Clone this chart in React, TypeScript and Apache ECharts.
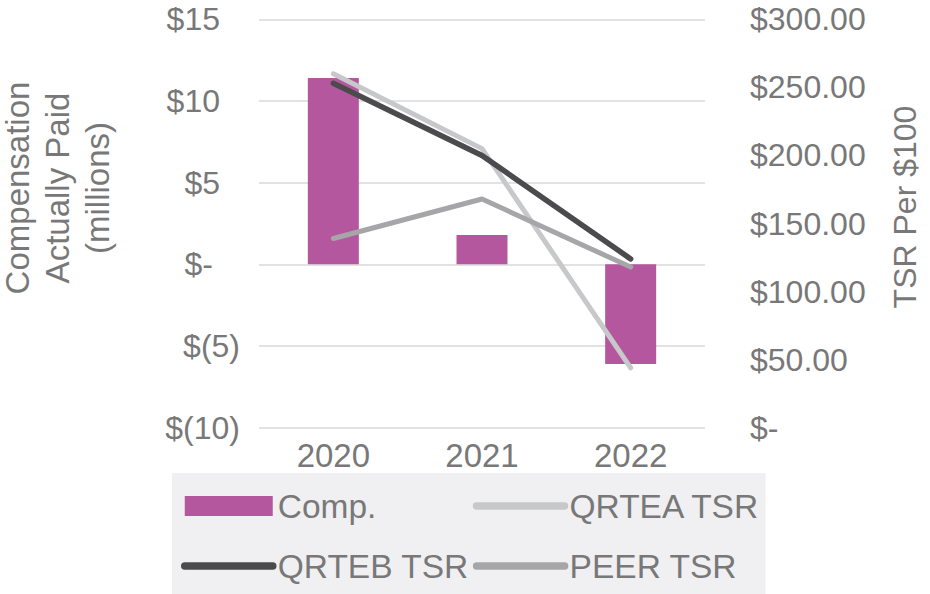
import React, { useEffect, useRef } from "react";
import * as echarts from "echarts";

const years = ["2020", "2021", "2022"];
const compValues = [11.4, 1.8, -6.1];
const qrteaTsr = [260, 205, 44];
const qrtebTsr = [253, 200, 124];
const peerTsr = [139, 168, 118];

const FONT = "'Liberation Sans', Arial, sans-serif";
const TEXT = "#787878";

export default function App() {
  const ref = useRef<HTMLDivElement>(null);
  useEffect(() => {
    if (!ref.current) return;
    const chart = echarts.init(ref.current, undefined, { renderer: "svg" });
    const lab = { fontSize: 32, fontFamily: FONT, color: TEXT };
    const hideSym = { opacity: 0 };
    chart.setOption({
      animation: false,
      backgroundColor: "#ffffff",
      textStyle: { fontFamily: FONT },
      grid: { left: 259, right: 225, top: 19.3, bottom: 166.3, containLabel: false },
      xAxis: {
        type: "category",
        data: years,
        axisLine: { show: false },
        axisTick: { show: false },
        axisLabel: { ...lab, fontSize: 33, margin: 11 },
      },
      yAxis: [
        {
          type: "value",
          min: -10,
          max: 15,
          interval: 5,
          axisLine: { show: false },
          axisTick: { show: false },
          splitLine: { lineStyle: { color: "#d9d9d9", width: 1.5 } },
          axisLabel: {
            ...lab,
            margin: 19,
            formatter: (v: number) =>
              v < 0 ? `{n|$(${-v})}` : v === 0 ? "{z|$-}" : `{p|$${v}}`,
            rich: {
              n: { ...lab },
              z: { ...lab, padding: [0, 27, 0, 0] },
              p: { ...lab, padding: [0, 20, 0, 0] },
            },
          },
        },
        {
          type: "value",
          min: 0,
          max: 300,
          interval: 50,
          alignTicks: false,
          axisLine: { show: false },
          axisTick: { show: false },
          splitLine: { show: false },
          axisLabel: {
            ...lab,
            margin: 45,
            formatter: (v: number) => (v === 0 ? "$-" : `$${v.toFixed(2)}`),
          },
        },
      ],
      legend: {
        left: 172,
        top: 473,
        width: 640,
        orient: "horizontal",
        backgroundColor: "#f0f0f2",
        padding: [5, 5, 0, 9],
        itemGap: 4,
        itemWidth: 88,
        itemHeight: 20,
        textStyle: { ...lab, fontSize: 33.5, lineHeight: 56, width: 191 },
        data: [
          { name: "Comp.", icon: "rect" },
          { name: "QRTEA TSR", lineStyle: { width: 7.5, cap: "round" }, itemStyle: hideSym },
          { name: "QRTEB TSR", lineStyle: { width: 7.5, cap: "round" }, itemStyle: hideSym },
          { name: "PEER TSR", lineStyle: { width: 7.5, cap: "round" }, itemStyle: hideSym },
        ],
      },
      graphic: [
        {
          type: "text",
          x: 57,
          y: 188,
          rotation: Math.PI / 2,
          style: {
            text: "Compensation\nActually Paid\n(millions)",
            font: `33px ${FONT}`,
            fill: TEXT,
            align: "center",
            verticalAlign: "middle",
            lineHeight: 40,
          },
        },
        {
          type: "text",
          x: 905,
          y: 207,
          rotation: Math.PI / 2,
          style: {
            text: "TSR Per $100",
            font: `32px ${FONT}`,
            fill: TEXT,
            align: "center",
            verticalAlign: "middle",
          },
        },
      ],
      series: [
        {
          name: "Comp.",
          type: "bar",
          data: compValues,
          barWidth: 51,
          itemStyle: { color: "#b5579f" },
          yAxisIndex: 0,
        },
        {
          name: "QRTEA TSR",
          type: "line",
          yAxisIndex: 1,
          data: qrteaTsr,
          symbol: "none",
          lineStyle: { color: "#c7c8ca", width: 5, cap: "round", join: "round" },
          itemStyle: { color: "#c7c8ca" },
        },
        {
          name: "QRTEB TSR",
          type: "line",
          yAxisIndex: 1,
          data: qrtebTsr,
          symbol: "none",
          lineStyle: { color: "#4b4b4d", width: 5.5, cap: "round", join: "round" },
          itemStyle: { color: "#4b4b4d" },
        },
        {
          name: "PEER TSR",
          type: "line",
          yAxisIndex: 1,
          data: peerTsr,
          symbol: "none",
          lineStyle: { color: "#a6a6a9", width: 5, cap: "round", join: "round" },
          itemStyle: { color: "#a6a6a9" },
        },
      ],
    });
    return () => chart.dispose();
  }, []);
  return (
    <div
      ref={ref}
      style={{ position: "fixed", left: 0, top: 0, width: 930, height: 594 }}
    />
  );
}
